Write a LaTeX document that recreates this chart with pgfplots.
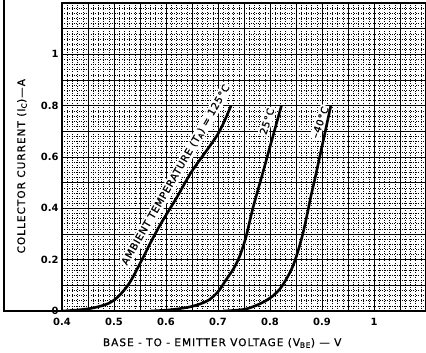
\documentclass[border=0pt]{standalone}
\usepackage{fontspec}
\setmainfont{DejaVu Sans}
\newfontfamily\lblfont[LetterSpace=10, FakeBold=0.6]{DejaVu Sans}
\newfontfamily\notefont[LetterSpace=7, FakeBold=0.8]{DejaVu Sans}
\newfontfamily\codefont[LetterSpace=15, FakeBold=0.6]{DejaVu Sans}
\usepackage{pgfplots}
\pgfplotsset{compat=1.18}

\begin{document}
\begin{tikzpicture}
\begin{axis}[
    name=ax,
    scale only axis,
    width=364bp, height=308bp,
    xmin=0.4, xmax=1.1,
    ymin=0, ymax=1.2,
    xtick={0.4,0.45,0.5,0.55,0.6,0.65,0.7,0.75,0.8,0.85,0.9,0.95,1.0,1.05,1.1},
    xticklabels={0.4,,0.5,,0.6,,0.7,,0.8,,0.9,,1,,},
    ytick={0,0.1,0.2,0.3,0.4,0.5,0.6,0.7,0.8,0.9,1.0,1.1,1.2},
    yticklabels={0,,0.2,,0.4,,0.6,,0.8,,1,,},
    minor x tick num=4,
    minor y tick num=4,
    major tick length=0pt,
    minor tick length=0pt,
    grid=both,
    major grid style={black, line width=0.9pt},
    minor grid style={black, dotted, line width=0.6pt},
    axis line style={black, line width=1.2pt},
    tick label style={font=\fontsize{10}{12}\selectfont\bfseries},
    xticklabel style={yshift=-4bp},
    label style={font=\fontsize{10.5}{12}\lblfont},
    xlabel={BASE - TO - EMITTER VOLTAGE (V\textsubscript{BE}) — V},
    ylabel={COLLECTOR CURRENT (I\textsubscript{C})—A},
    x label style={at={(rel axis cs:0.44,-0.114)}, anchor=base},
    y label style={at={(rel axis cs:-0.11,0.47)}, anchor=center, rotate=0},
]
% temperature labels first, so the curves are drawn over their white boxes
\node[rotate=60, fill=white, inner sep=1.5pt, font=\fontsize{10}{11}\notefont]
    at (axis cs:0.619,0.530) {AMBIENT TEMPERATURE (T\textsubscript{A}) = 125°C};
\node[rotate=72, fill=white, inner sep=1.5pt, font=\fontsize{10}{11}\notefont]
    at (axis cs:0.794,0.739) {25°C};
\node[rotate=70, fill=white, inner sep=1.5pt, font=\fontsize{10}{11}\notefont]
    at (axis cs:0.896,0.735) {–40°C};
\addplot[black, line width=2.6pt, smooth] coordinates {
    (0.40,0.000) (0.43,0.004) (0.46,0.012) (0.49,0.030) (0.51,0.060)
    (0.53,0.110) (0.55,0.185) (0.57,0.265) (0.59,0.340) (0.62,0.440)
    (0.65,0.545) (0.70,0.690) (0.725,0.800)
};
\addplot[black, line width=2.6pt, smooth] coordinates {
    (0.57,0.000) (0.61,0.005) (0.65,0.018) (0.68,0.040) (0.70,0.075)
    (0.715,0.120) (0.73,0.165) (0.742,0.215) (0.754,0.290) (0.767,0.400)
    (0.785,0.530) (0.80,0.640) (0.822,0.800)
};
\addplot[black, line width=2.6pt, smooth] coordinates {
    (0.71,0.000) (0.754,0.008) (0.792,0.040) (0.819,0.086) (0.844,0.175)
    (0.863,0.300) (0.879,0.450) (0.888,0.530) (0.917,0.800)
};
\node[anchor=base west, font=\fontsize{8.5}{9}\codefont]
    at (rel axis cs:0.832,-0.120) {92CS-24235};
\end{axis}
\draw[black, line width=1.2pt] ([xshift=-58bp, yshift=3bp]ax.north west)
    -- ([xshift=-58bp]ax.south west) -- (ax.south west);
\pgfresetboundingbox
\path ([xshift=-62bp, yshift=-41bp]ax.south west) rectangle ([yshift=3bp]ax.north east);
\end{tikzpicture}
\end{document}
